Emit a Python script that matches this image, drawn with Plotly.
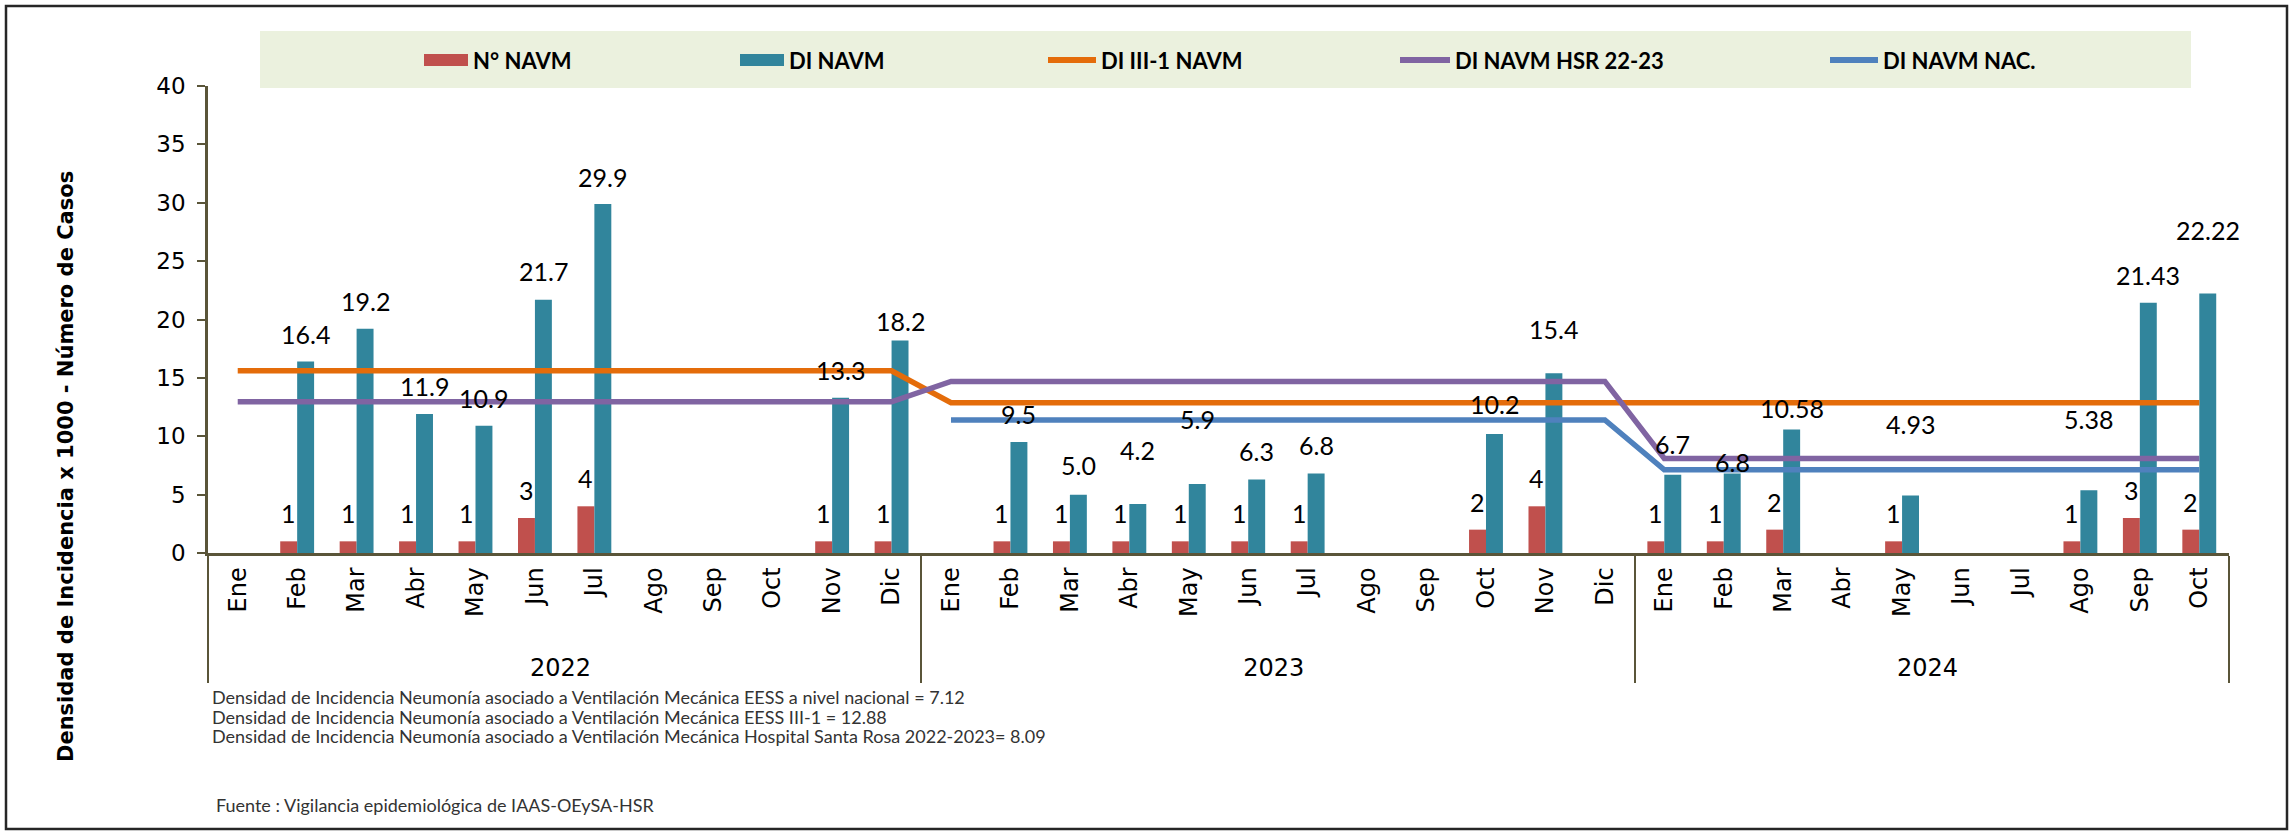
import plotly.graph_objects as go

# ---------------- data ----------------
years = ["2022", "2022", "2022", "2022", "2022", "2022", "2022", "2022", "2022", "2022", "2022", "2022",
         "2023", "2023", "2023", "2023", "2023", "2023", "2023", "2023", "2023", "2023", "2023", "2023",
         "2024", "2024", "2024", "2024", "2024", "2024", "2024", "2024", "2024", "2024"]
months = ["Ene", "Feb", "Mar", "Abr", "May", "Jun", "Jul", "Ago", "Sep", "Oct", "Nov", "Dic",
          "Ene", "Feb", "Mar", "Abr", "May", "Jun", "Jul", "Ago", "Sep", "Oct", "Nov", "Dic",
          "Ene", "Feb", "Mar", "Abr", "May", "Jun", "Jul", "Ago", "Sep", "Oct"]

n_navm = [None, 1, 1, 1, 1, 3, 4, None, None, None, 1, 1,
          None, 1, 1, 1, 1, 1, 1, None, None, 2, 4, None,
          1, 1, 2, None, 1, None, None, 1, 3, 2]

di_navm = [None, 16.4, 19.2, 11.9, 10.9, 21.7, 29.9, None, None, None, 13.3, 18.2,
           None, 9.5, 5.0, 4.2, 5.9, 6.3, 6.8, None, None, 10.2, 15.4, None,
           6.7, 6.8, 10.58, None, 4.93, None, None, 5.38, 21.43, 22.22]

di_text = ["", "16.4", "19.2", "11.9", "10.9", "21.7", "29.9", "", "", "", "13.3", "18.2",
           "", "9.5", "5.0", "4.2", "5.9", "6.3", "6.8", "", "", "10.2", "15.4", "",
           "6.7", "6.8", "10.58", "", "4.93", "", "", "5.38", "21.43", "22.22"]

di_iii1 = [15.6, 15.6, 15.6, 15.6, 15.6, 15.6, 15.6, 15.6, 15.6, 15.6, 15.6, 15.6,
           12.88, 12.88, 12.88, 12.88, 12.88, 12.88, 12.88, 12.88, 12.88, 12.88, 12.88, 12.88,
           12.88, 12.88, 12.88, 12.88, 12.88, 12.88, 12.88, 12.88, 12.88, 12.88]

di_hsr = [12.95, 12.95, 12.95, 12.95, 12.95, 12.95, 12.95, 12.95, 12.95, 12.95, 12.95, 12.95,
          14.7, 14.7, 14.7, 14.7, 14.7, 14.7, 14.7, 14.7, 14.7, 14.7, 14.7, 14.7,
          8.09, 8.09, 8.09, 8.09, 8.09, 8.09, 8.09, 8.09, 8.09, 8.09]

di_nac = [None, None, None, None, None, None, None, None, None, None, None, None,
          11.4, 11.4, 11.4, 11.4, 11.4, 11.4, 11.4, 11.4, 11.4, 11.4, 11.4, 11.4,
          7.12, 7.12, 7.12, 7.12, 7.12, 7.12, 7.12, 7.12, 7.12, 7.12]

series_names = ["N° NAVM", "DI NAVM", "DI III-1 NAVM", "DI NAVM HSR 22-23", "DI NAVM NAC."]

footnotes = [
    "Densidad de Incidencia Neumonía asociado a Ventilación Mecánica EESS a nivel nacional = 7.12",
    "Densidad de Incidencia Neumonía asociado a Ventilación Mecánica EESS III-1 = 12.88",
    "Densidad de Incidencia Neumonía asociado a Ventilación Mecánica Hospital Santa Rosa 2022-2023= 8.09",
]
source_text = "Fuente : Vigilancia epidemiológica de IAAS-OEySA-HSR"
y_title = "Densidad de Incidencia x 1000 - Número de Casos"

# ---------------- styles ----------------
C_RED = "#C0504D"
C_TEAL = "#31859C"
C_ORANGE = "#E46C0A"
C_PURPLE = "#8064A2"
C_BLUE = "#4F81BD"
AXIS = "#5A5539"
LEG_BG = "#EBF1DE"

N_SHIFT = 28  # px above bar top for case-count labels
di_label_shift = [28, 28, 28, 28, 28, 29, 27, 28, 28, 28, 28, 20,
                  28, 28, 30, 54, 65, 28, 29, 28, 28, 30, 44, 28,
                  31, 12, 21, 28, 71, 28, 28, 71, 28, 64]

W, H = 2295, 835
L, R, T, B = 208, 2229, 86, 553


def px(xp):
    return (xp - L) / (R - L)


def py(yp):
    return (B - yp) / (B - T)


# leading no-break spaces lengthen the rotated month labels downwards,
# which pushes the year row lower as in the reference
PAD = "\u00a0\u00a0"
x = [years, [PAD + m for m in months]]

fig = go.Figure()
fig.add_bar(x=x, y=n_navm, name=series_names[0], marker=dict(color=C_RED, line=dict(width=0)))
fig.add_bar(x=x, y=di_navm, name=series_names[1], marker=dict(color=C_TEAL, line=dict(width=0)))
fig.add_scatter(x=x, y=di_iii1, name=series_names[2], mode="lines",
                line=dict(color=C_ORANGE, width=5.5))
fig.add_scatter(x=x, y=di_hsr, name=series_names[3], mode="lines",
                line=dict(color=C_PURPLE, width=5.5))
fig.add_scatter(x=x, y=di_nac, name=series_names[4], mode="lines",
                line=dict(color=C_BLUE, width=5.5))

LABEL_FONT = dict(family="Lato", size=25, color="#000000")
annotations = []
for i, v in enumerate(n_navm):
    if v is not None:
        annotations.append(dict(x=i, y=v, xref="x", yref="y", text=str(v), showarrow=False,
                                xshift=-8.5, yshift=N_SHIFT, font=LABEL_FONT))
for i, v in enumerate(di_navm):
    if v is not None:
        annotations.append(dict(x=i, y=v, xref="x", yref="y", text=di_text[i], showarrow=False,
                                xshift=8.5, yshift=di_label_shift[i], font=LABEL_FONT))

# y-axis title
annotations.append(dict(x=px(66), y=py(467), xref="paper", yref="paper", text="<b>" + y_title + "</b>",
                        textangle=-90, showarrow=False, xanchor="center", yanchor="middle",
                        font=dict(family="DejaVu Sans", size=21, color="#000000")))
# footnotes
for k, (t, yy) in enumerate(zip(footnotes, [697, 717, 736])):
    annotations.append(dict(x=px(210), y=py(yy), xref="paper", yref="paper", text=t, showarrow=False,
                            xanchor="left", yanchor="middle",
                            font=dict(family="Lato", size=18, color="#333333")))
annotations.append(dict(x=px(214), y=py(805), xref="paper", yref="paper", text=source_text,
                        showarrow=False, xanchor="left", yanchor="middle",
                        font=dict(family="Lato", size=18, color="#333333")))

# frame and manual legend
shapes = []
shapes.append(dict(type="rect", xref="paper", yref="paper", x0=px(6), x1=px(2287), y0=py(829), y1=py(6),
                   line=dict(color="#262626", width=2.5), fillcolor="rgba(0,0,0,0)", layer="below"))
shapes.append(dict(type="rect", xref="paper", yref="paper", x0=px(260), x1=px(2191), y0=py(88), y1=py(31),
                   line=dict(width=0), fillcolor=LEG_BG, layer="below"))
leg_y = 60
leg_items = [
    ("bar", C_RED, 424, 468, series_names[0]),
    ("bar", C_TEAL, 740, 784, series_names[1]),
    ("line", C_ORANGE, 1048, 1096, series_names[2]),
    ("line", C_PURPLE, 1400, 1450, series_names[3]),
    ("line", C_BLUE, 1830, 1878, series_names[4]),
]
for kind, col, a, b, name in leg_items:
    if kind == "bar":
        shapes.append(dict(type="rect", xref="paper", yref="paper", x0=px(a), x1=px(b),
                           y0=py(leg_y + 6), y1=py(leg_y - 6), line=dict(width=0), fillcolor=col))
    else:
        shapes.append(dict(type="line", xref="paper", yref="paper", x0=px(a), x1=px(b),
                           y0=py(leg_y), y1=py(leg_y), line=dict(color=col, width=6)))
    annotations.append(dict(x=px(b + 3), y=py(leg_y), xref="paper", yref="paper", text="<b>" + name + "</b>",
                            showarrow=False, xanchor="left", yanchor="middle",
                            font=dict(family="Lato", size=22, color="#000000")))

fig.update_layout(
    width=W, height=H,
    margin=dict(l=L, r=W - R, t=T, b=H - B, autoexpand=False),
    barmode="group", bargap=0.43, bargroupgap=0,
    plot_bgcolor="white", paper_bgcolor="white",
    showlegend=False,
    annotations=annotations,
    shapes=shapes,
    xaxis=dict(type="multicategory", range=[-0.5, len(months) - 0.5], autorange=False,
               showline=True, linecolor=AXIS, linewidth=2.5,
               ticks="", tickangle=-90, showgrid=False, zeroline=False,
               tickfont=dict(family="DejaVu Sans", size=24, color="#000000"),
               showdividers=True, dividercolor=AXIS, dividerwidth=2,
               ticklabelstandoff=2),
    yaxis=dict(range=[0, 40], dtick=5, tick0=0, showline=True, linecolor=AXIS, linewidth=2.5,
               ticks="outside", ticklen=8, tickwidth=2, tickcolor=AXIS, showgrid=False, zeroline=False,
               tickfont=dict(family="DejaVu Sans", size=23, color="#000000"),
               ticklabelstandoff=7),
)

fig.write_html("out.html", config={"displayModeBar": False},
               post_script="document.body.style.margin='0';document.body.style.overflow='hidden';")
